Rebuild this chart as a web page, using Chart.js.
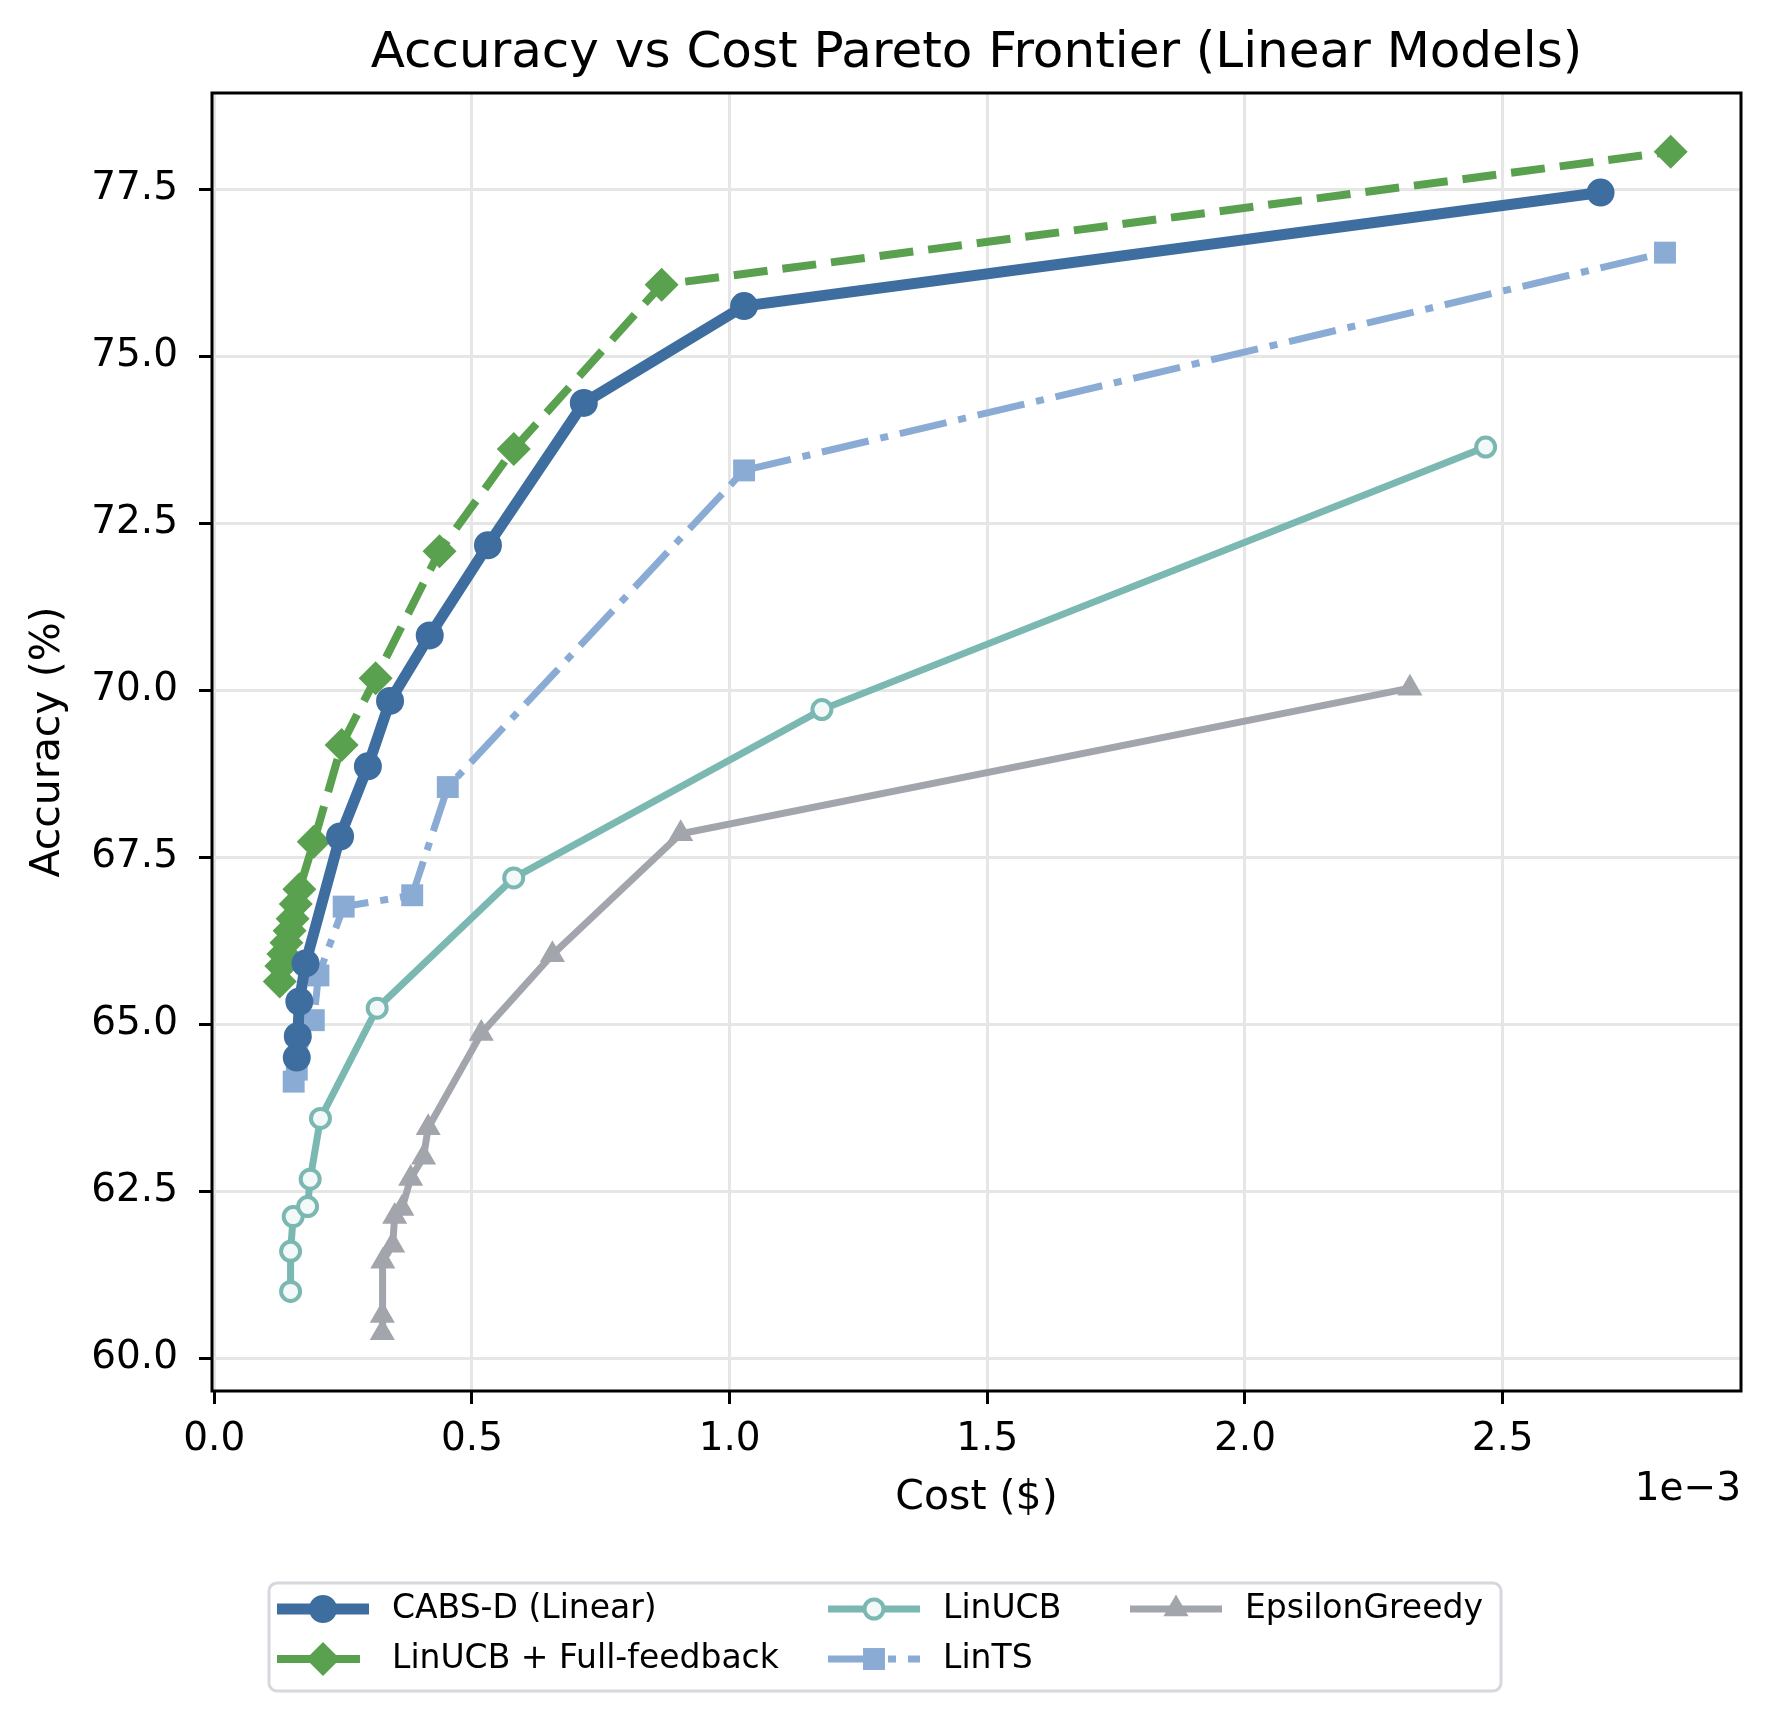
<!DOCTYPE html>
<html>
<head>
<meta charset="utf-8">
<script src="https://cdn.jsdelivr.net/npm/chart.js@4.4.1/dist/chart.umd.min.js"></script>
<style>
  html, body { margin: 0; padding: 0; background: #fff; }
  canvas { display: block; }
</style>
</head>
<body>
<canvas id="paretoChart" width="1770" height="1722"></canvas>
<script>
// Kostnad i dollar, noggrannhet i procent
const cabsCost = [0.000160, 0.000162, 0.000165, 0.000177, 0.000244, 0.000298, 0.000341, 0.000418, 0.000531, 0.000717, 0.001028, 0.002690];
const cabsAcc  = [64.50, 64.82, 65.34, 65.91, 67.81, 68.86, 69.84, 70.82, 72.17, 74.30, 75.75, 77.45];

const fullCost = [0.000127, 0.000130, 0.000134, 0.000140, 0.000146, 0.000152, 0.000158, 0.000165, 0.000193, 0.000247, 0.000313, 0.000437, 0.000581, 0.000868, 0.002826];
const fullAcc  = [65.64, 65.87, 66.05, 66.22, 66.40, 66.58, 66.80, 67.02, 67.73, 69.18, 70.18, 72.08, 73.61, 76.07, 78.06];

const ucbCost = [0.000148, 0.000148, 0.000153, 0.000181, 0.000186, 0.000206, 0.000316, 0.000581, 0.001179, 0.002467];
const ucbAcc  = [61.00, 61.60, 62.12, 62.27, 62.68, 63.59, 65.24, 67.19, 69.71, 73.64];

const tsCost = [0.000154, 0.000160, 0.000193, 0.000202, 0.000251, 0.000384, 0.000453, 0.001028, 0.002815];
const tsAcc  = [64.14, 64.32, 65.06, 65.73, 66.76, 66.93, 68.55, 73.29, 76.55];

const epsCost = [0.000326, 0.000326, 0.000327, 0.000346, 0.000350, 0.000364, 0.000381, 0.000406, 0.000415, 0.000518, 0.000656, 0.000905, 0.002320];
const epsAcc  = [60.38, 60.64, 61.45, 61.69, 62.12, 62.24, 62.69, 63.01, 63.45, 64.86, 66.04, 67.85, 70.03];

const xTicks = [0, 0.0005, 0.0010, 0.0015, 0.0020, 0.0025];
const yTicks = [60.0, 62.5, 65.0, 67.5, 70.0, 72.5, 75.0, 77.5];

const FONT = '"DejaVu Sans", "Liberation Sans", sans-serif';

function toPoints(xs, ys) {
  return xs.map((x, i) => ({ x: x, y: ys[i] }));
}

const datasets = [
  {
    label: 'CABS-D (Linear)',
    data: toPoints(cabsCost, cabsAcc),
    borderColor: '#3e6e9f', backgroundColor: '#3e6e9f',
    borderWidth: 11, borderDash: [],
    pointStyle: 'circle', pointRadius: 13, pointBorderWidth: 2,
    pointBackgroundColor: '#3e6e9f', pointBorderColor: '#3e6e9f'
  },
  {
    label: 'LinUCB + Full-feedback',
    data: toPoints(fullCost, fullAcc),
    borderColor: '#59a14f', backgroundColor: '#59a14f',
    borderWidth: 8, borderDash: [34, 15],
    pointStyle: 'rectRot', pointRadius: 17, pointBorderWidth: 0,
    pointBackgroundColor: '#59a14f', pointBorderColor: '#59a14f'
  },
  {
    label: 'LinUCB',
    data: toPoints(ucbCost, ucbAcc),
    borderColor: '#7ab8b1', backgroundColor: '#7ab8b1',
    borderWidth: 7, borderDash: [],
    pointStyle: 'circle', pointRadius: 9.5, pointBorderWidth: 4,
    pointBackgroundColor: '#f3f8f8', pointBorderColor: '#7ab8b1'
  },
  {
    label: 'LinTS',
    data: toPoints(tsCost, tsAcc),
    borderColor: '#8aabd4', backgroundColor: '#8aabd4',
    borderWidth: 7, borderDash: [48, 12, 8, 12],
    pointStyle: 'rect', pointRadius: 15.5, pointBorderWidth: 0,
    pointBackgroundColor: '#8aabd4', pointBorderColor: '#8aabd4'
  },
  {
    label: 'EpsilonGreedy',
    data: toPoints(epsCost, epsAcc),
    borderColor: '#a2a5ab', backgroundColor: '#a2a5ab',
    borderWidth: 7, borderDash: [],
    pointStyle: 'triangle', pointRadius: 14.5, pointBorderWidth: 0,
    pointBackgroundColor: '#a2a5ab', pointBorderColor: '#a2a5ab'
  }
];
datasets.forEach(d => { d.fill = false; d.tension = 0; d.showLine = true; d.pointHoverRadius = d.pointRadius; });

// Titel, ram och legend ritas själva
const framePlugin = {
  id: 'frame',
  afterDraw(chart) {
    const ctx = chart.ctx;
    const a = chart.chartArea;
    ctx.save();
    ctx.strokeStyle = '#000';
    ctx.lineWidth = 3;
    ctx.strokeRect(a.left, a.top, a.right - a.left, a.bottom - a.top);

    // titel
    ctx.fillStyle = '#000';
    ctx.font = '50px ' + FONT;
    ctx.textAlign = 'center';
    ctx.textBaseline = 'alphabetic';
    ctx.fillText('Accuracy vs Cost Pareto Frontier (Linear Models)', (a.left + a.right) / 2, 67);

    // offset-text för x-axeln
    ctx.font = '39px ' + FONT;
    ctx.textAlign = 'right';
    ctx.textBaseline = 'middle';
    ctx.fillText('1e\u22123', a.right, 1490);
    ctx.restore();
  }
};

const legendPlugin = {
  id: 'customLegend',
  afterDraw(chart) {
    const ctx = chart.ctx;
    const box = { x: 269, y: 1583, w: 1232, h: 108 };
    ctx.save();
    ctx.beginPath();
    ctx.roundRect(box.x, box.y, box.w, box.h, 8);
    ctx.fillStyle = 'rgba(255,255,255,0.9)';
    ctx.fill();
    ctx.lineWidth = 3;
    ctx.strokeStyle = '#d5d8dc';
    ctx.stroke();

    const cols = [277, 828, 1130];
    const rows = [1609, 1659];
    const slots = [[0, 0], [0, 1], [1, 0], [1, 1], [2, 0]];
    chart.data.datasets.forEach((ds, i) => {
      const x0 = cols[slots[i][0]];
      const y = rows[slots[i][1]];
      const x1 = x0 + 92;
      ctx.save();
      ctx.beginPath();
      ctx.setLineDash(ds.borderDash);
      ctx.lineWidth = ds.borderWidth;
      ctx.strokeStyle = ds.borderColor;
      ctx.moveTo(x0, y);
      ctx.lineTo(x1, y);
      ctx.stroke();
      ctx.setLineDash([]);
      ctx.fillStyle = ds.pointBackgroundColor;
      ctx.strokeStyle = ds.pointBorderColor;
      ctx.lineWidth = ds.pointBorderWidth;
      Chart.helpers.drawPoint(ctx, {
        pointStyle: ds.pointStyle,
        radius: ds.pointRadius,
        borderWidth: ds.pointBorderWidth,
        rotation: 0
      }, (x0 + x1) / 2, y);
      ctx.restore();

      ctx.fillStyle = '#000';
      ctx.font = '33px ' + FONT;
      ctx.textAlign = 'left';
      ctx.textBaseline = 'middle';
      ctx.fillText(ds.label, x1 + 23, y);
    });
    ctx.restore();
  }
};

const ctx = document.getElementById('paretoChart').getContext('2d');
const paretoChart = new Chart(ctx, {
  type: 'line',
  data: { datasets: datasets },
  options: {
    responsive: false,
    animation: false,
    devicePixelRatio: 1,
    layout: { padding: { left: 0, top: 93, right: 29, bottom: 0 } },
    plugins: {
      legend: { display: false },
      title: { display: false },
      tooltip: { enabled: false }
    },
    scales: {
      x: {
        type: 'linear',
        min: -0.0000045,
        max: 0.0029625,
        afterBuildTicks: scale => { scale.ticks = xTicks.map(v => ({ value: v })); },
        afterFit: scale => { scale.height = 331; },
        grid: { color: '#e6e6e6', lineWidth: 3, tickColor: '#000', tickWidth: 3, tickLength: 13 },
        border: { display: false },
        ticks: {
          color: '#000',
          font: { family: FONT, size: 39 },
          padding: 12,
          maxRotation: 0,
          callback: v => (v * 1000).toFixed(1)
        },
        title: {
          display: true,
          text: 'Cost ($)',
          color: '#000',
          font: { family: FONT, size: 41 },
          padding: { top: 0, bottom: 199 }
        }
      },
      y: {
        type: 'linear',
        min: 59.509,
        max: 78.94,
        afterBuildTicks: scale => { scale.ticks = yTicks.map(v => ({ value: v })); },
        afterFit: scale => { scale.width = 212; },
        grid: { color: '#e6e6e6', lineWidth: 3, tickColor: '#000', tickWidth: 3, tickLength: 13 },
        border: { display: false },
        ticks: {
          color: '#000',
          font: { family: FONT, size: 39 },
          padding: 21,
          callback: v => v.toFixed(1)
        },
        title: {
          display: true,
          text: 'Accuracy (%)',
          color: '#000',
          font: { family: FONT, size: 41 },
          padding: { top: 24, bottom: 0 }
        }
      }
    }
  },
  plugins: [framePlugin, legendPlugin]
});
</script>
</body>
</html>
